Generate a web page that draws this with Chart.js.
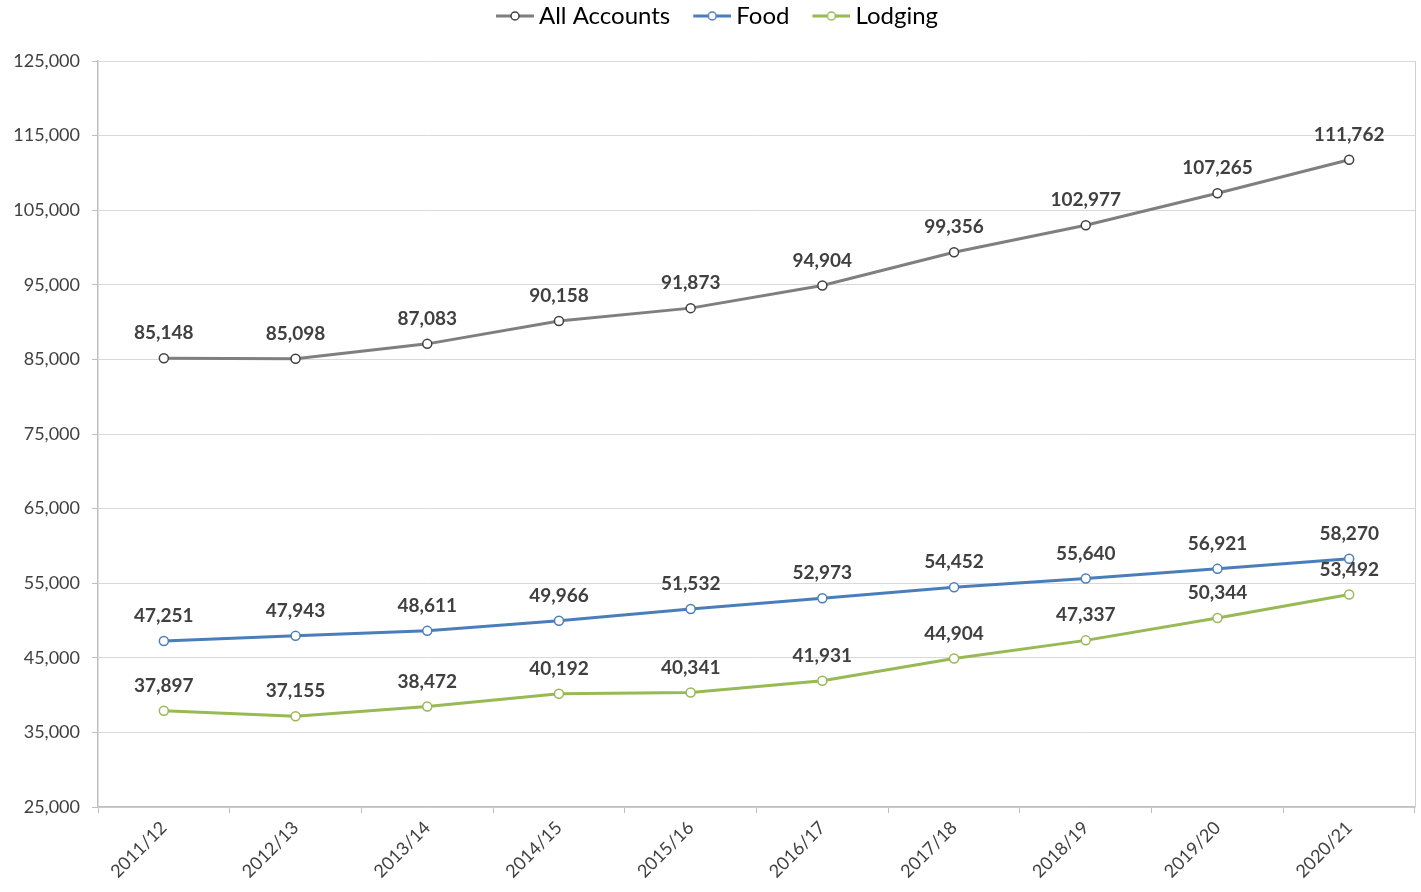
<!DOCTYPE html>
<html>
<head>
<meta charset="utf-8">
<script src="https://cdn.jsdelivr.net/npm/chart.js@4.4.1/dist/chart.umd.min.js"></script>
<style>
    html, body { margin: 0; padding: 0; background: #ffffff; }
    #wrap { width: 1421px; height: 892px; position: relative; }
</style>
</head>
<body>
<div id="wrap"><canvas id="chart"></canvas></div>
<script>
// Chart data
const years = ['2011/12', '2012/13', '2013/14', '2014/15', '2015/16', '2016/17', '2017/18', '2018/19', '2019/20', '2020/21'];
const allAccounts = [85148, 85098, 87083, 90158, 91873, 94904, 99356, 102977, 107265, 111762];
const food = [47251, 47943, 48611, 49966, 51532, 52973, 54452, 55640, 56921, 58270];
const lodging = [37897, 37155, 38472, 40192, 40341, 41931, 44904, 47337, 50344, 53492];
const yMin = 25000;
const yMax = 125000;
const yStep = 10000;

const FONT = 'Lato, "Open Sans", sans-serif';

// Legend marker: short line with hollow circle (left part of canvas left blank as spacing)
function legendMarker(lineColor, pointColor) {
    const c = document.createElement('canvas');
    c.width = 64;
    c.height = 12;
    const ctx = c.getContext('2d');
    ctx.strokeStyle = lineColor;
    ctx.lineWidth = 3;
    ctx.beginPath();
    ctx.moveTo(26, 6);
    ctx.lineTo(64, 6);
    ctx.stroke();
    ctx.fillStyle = '#ffffff';
    ctx.strokeStyle = pointColor;
    ctx.lineWidth = 1.5;
    ctx.beginPath();
    ctx.arc(45, 6, 4, 0, Math.PI * 2);
    ctx.fill();
    ctx.stroke();
    return c;
}

// Value labels above each point
const valueLabels = {
    id: 'valueLabels',
    afterDatasetsDraw(chart) {
        const ctx = chart.ctx;
        ctx.save();
        ctx.font = 'bold 19px ' + FONT;
        ctx.fillStyle = '#404040';
        ctx.textAlign = 'center';
        ctx.textBaseline = 'middle';
        chart.data.datasets.forEach((ds, i) => {
            const meta = chart.getDatasetMeta(i);
            meta.data.forEach((pt, j) => {
                ctx.fillText(ds.data[j].toLocaleString('en-US'), pt.x, pt.y - 25);
            });
        });
        ctx.restore();
    }
};

// Right border of plot area
const rightBorder = {
    id: 'rightBorder',
    beforeDatasetsDraw(chart) {
        const a = chart.chartArea;
        const ctx = chart.ctx;
        ctx.save();
        ctx.strokeStyle = '#d0d0d0';
        ctx.lineWidth = 1;
        ctx.beginPath();
        ctx.moveTo(a.right + 0.5, a.top);
        ctx.lineTo(a.right + 0.5, a.bottom);
        ctx.stroke();
        ctx.restore();
    }
};

// Fix legend box height so the plot starts lower
const legendHeight = {
    id: 'legendHeight',
    beforeLayout(chart) {
        const lg = chart.legend;
        if (lg && !lg._fixedFit) {
            const orig = lg.fit.bind(lg);
            lg.fit = function() {
                orig();
                this.height = 61;
            };
            lg._fixedFit = true;
        }
    }
};

const gray = '#7f7f7f';
const blue = '#4a7ebb';
const green = '#98b954';

new Chart(document.getElementById('chart'), {
    type: 'line',
    data: {
        labels: years,
        datasets: [{
            label: 'All Accounts',
            data: allAccounts,
            borderColor: gray,
            borderWidth: 3,
            pointBackgroundColor: '#ffffff',
            pointBorderColor: '#404040',
            pointBorderWidth: 1.5,
            pointRadius: 4.5,
            tension: 0
        }, {
            label: 'Food',
            data: food,
            borderColor: blue,
            borderWidth: 3,
            pointBackgroundColor: '#ffffff',
            pointBorderColor: blue,
            pointBorderWidth: 1.5,
            pointRadius: 4.5,
            tension: 0
        }, {
            label: 'Lodging',
            data: lodging,
            borderColor: green,
            borderWidth: 3,
            pointBackgroundColor: '#ffffff',
            pointBorderColor: green,
            pointBorderWidth: 1.5,
            pointRadius: 4.5,
            tension: 0
        }]
    },
    options: {
        responsive: true,
        maintainAspectRatio: false,
        animation: false,
        layout: {
            padding: { top: 0, right: 6, bottom: 0, left: 0 }
        },
        plugins: {
            tooltip: { enabled: false },
            legend: {
                position: 'top',
                labels: {
                    usePointStyle: true,
                    pointStyleWidth: 50,
                    generateLabels(chart) {
                        const marks = [
                            legendMarker(gray, '#404040'),
                            legendMarker(blue, blue),
                            legendMarker(green, green)
                        ];
                        return chart.data.datasets.map((ds, i) => ({
                            text: ds.label,
                            pointStyle: marks[i],
                            fillStyle: '#ffffff',
                            strokeStyle: ds.borderColor,
                            lineWidth: 0,
                            hidden: false,
                            datasetIndex: i,
                            fontColor: '#000000'
                        }));
                    },
                    color: '#000000',
                    font: { family: FONT, size: 24 },
                    padding: 4
                }
            }
        },
        scales: {
            x: {
                offset: true,
                grid: {
                    offset: true,
                    display: true,
                    drawOnChartArea: false,
                    drawTicks: true,
                    tickLength: 6,
                    color: '#bfbfbf'
                },
                border: { color: '#bfbfbf', width: 1.5 },
                ticks: {
                    minRotation: 45,
                    maxRotation: 45,
                    color: '#404040',
                    font: { family: FONT, size: 18 },
                    padding: 4
                },
                afterFit(scale) { scale.height = 85; }
            },
            y: {
                min: yMin,
                max: yMax,
                grid: {
                    color: '#d9d9d9',
                    tickLength: 6,
                    tickColor: '#bfbfbf'
                },
                border: { color: '#bfbfbf', width: 1.5 },
                ticks: {
                    stepSize: yStep,
                    color: '#404040',
                    font: { family: FONT, size: 18 },
                    padding: 12,
                    callback: v => v.toLocaleString('en-US')
                },
                afterFit(scale) { scale.width = 98; }
            }
        }
    },
    plugins: [valueLabels, rightBorder, legendHeight]
});
</script>
</body>
</html>
